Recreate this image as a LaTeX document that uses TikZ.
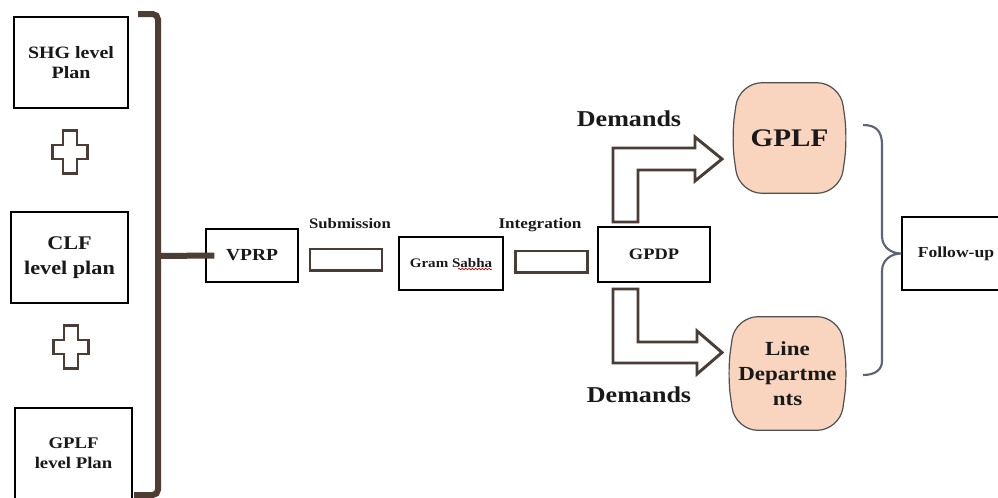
\documentclass[tikz,border=0pt]{standalone}
\usepackage{fontspec}
\setmainfont{Liberation Serif}[FakeStretch=1.15]
\usetikzlibrary{calc,backgrounds,decorations.pathmorphing}
\definecolor{planbrown}{HTML}{4E3D33}
\definecolor{arrowbrown}{HTML}{4A3D36}
\definecolor{peach}{HTML}{F9D5C0}
\definecolor{peachline}{HTML}{505050}
\definecolor{braceblue}{HTML}{5C6577}
\newcommand{\fsz}[2]{\bfseries\fontsize{#1}{#2}\selectfont}
\tikzset{
    box/.style={draw=black,line width=1.1pt,fill=white,inner sep=0pt,align=center,text=black!90},
    planbox/.style={box,minimum width=87.8pt,minimum height=68.3pt},
    bar/.style={draw=arrowbrown,line width=2.2pt,fill=white,minimum width=54pt,minimum height=15.8pt,inner sep=0pt},
    steplabel/.style={inner sep=0pt,text=black!90},
    bentarrow/.style={draw=arrowbrown,line width=2.2pt,fill=white,line join=miter},
    peachnode/.style={inner sep=0pt,align=center,text=black!90},
    peachshape/.style={draw=peachline,line width=0.9pt,fill=peach,rounded corners=17pt},
    bracket/.style={draw=planbrown,line width=4.5pt,rounded corners=4pt},
    curly/.style={draw=braceblue,line width=1.6pt},
    plusmark/.pic={
        \draw[draw=arrowbrown,line width=1.6pt,fill=white]
        (-7,-21.5) -- (7,-21.5) -- (7,-7) -- (17.5,-7) -- (17.5,7) -- (7,7)
        -- (7,21.5) -- (-7,21.5) -- (-7,7) -- (-17.5,7) -- (-17.5,-7) -- (-7,-7) -- cycle;
    },
}
\begin{document}
\begin{tikzpicture}[x=0.75pt,y=-0.75pt]
    \begin{scope}[on background layer]
        \fill[white] (0,0) rectangle (998,497);
    \end{scope}
    \useasboundingbox (0,0) rectangle (998,497);

    % plans of the three levels
    \node[planbox,minimum width=85.5pt,font=\fsz{13}{15}] (shg) at (71,62.5) {SHG level\\Plan};
    \node[planbox,font=\fsz{14.5}{18.75}] (clf) at (69.5,257.5) {CLF\\level plan};
    \node[planbox,font=\fsz{12.2}{15}] (gplfplan) at (73.5,453.5) {GPLF\\level Plan};
    \pic at (70,152) {plusmark};
    \pic at (71,347) {plusmark};

    % chain of steps
    \node[box,minimum width=69pt,minimum height=39.8pt,font=\fsz{12.7}{15}] (vprp) at (252,255.5) {VPRP};
    \node[bar] (subbar) at (346,259.5) {};
    \node[steplabel,font=\fsz{10.9}{13}] (sublbl) at (350,224) {Submission};
    \node[box,minimum width=78pt,minimum height=39.8pt,font=\fsz{9.8}{12}] (sabha) at (451,263.5) {Gram Sabha};
    \node[bar] (intbar) at (551.5,261.5) {};
    \node[steplabel,font=\fsz{11.2}{13}] (intlbl) at (540,225) {Integration};
    \node[box,minimum width=84pt,minimum height=41.3pt,font=\fsz{12}{14}] (gpdp) at (654,254.5) {GPDP};
    \draw[red!80!black,line width=0.5pt,decorate,decoration={snake,amplitude=0.6pt,segment length=2.5pt}]
        (458,269) -- (492,269);

    % bracket joining the plans
    \draw[bracket] (138,14) -- (158,14) -- (158,495) -- (134,495);
    \draw[bracket] (158,256) -- ($(vprp.west)+(9,0)$);

    % demands
    \draw[bentarrow] (613,222) -- (613,148) -- (695,148) -- (695,137) -- (722,159)
        -- (695,181) -- (695,170) -- (638,170) -- (638,222) -- cycle;
    \draw[bentarrow] (613,289) -- (613,363) -- (697,363) -- (697,374) -- (722,352.5)
        -- (697,331) -- (697,342) -- (638,342) -- (638,289) -- cycle;
    \node[steplabel,font=\fsz{17}{20}] (dem1) at (629,119) {Demands};
    \node[steplabel,font=\fsz{17}{20}] (dem2) at (639,395) {Demands};

    \node[peachnode,minimum width=75pt,minimum height=82.5pt,font=\fsz{19}{22}] (gplf) at (789.5,138) {GPLF};
    \node[peachnode,minimum width=78pt,minimum height=84.8pt,font=\fsz{15}{19}] (linedep) at (787.5,373.5) {Line\\Departme\\nts};
    \begin{scope}[on background layer]
        \foreach \n in {gplf,linedep}
            \path[peachshape] (\n.north) -- (\n.north east) -- ($(\n.east)+(8,0)$) -- (\n.south east)
                -- (\n.south west) -- ($(\n.west)+(-8,0)$) -- (\n.north west) -- cycle;
    \end{scope}

    % follow-up
    \node[box,minimum width=81pt,minimum height=54.8pt,font=\fsz{11.5}{14}] (follow) at (956,253.5) {Follow-up};
    \draw[curly] (863,125) .. controls (876,125) and (882,131) .. (882,145) -- (882,236)
        .. controls (882,247) and (891,253.5) .. (follow.west)
        .. controls (891,253.5) and (882,260) .. (882,271) -- (882,361)
        .. controls (882,369) and (876,375) .. (863,375);
\end{tikzpicture}
\end{document}
